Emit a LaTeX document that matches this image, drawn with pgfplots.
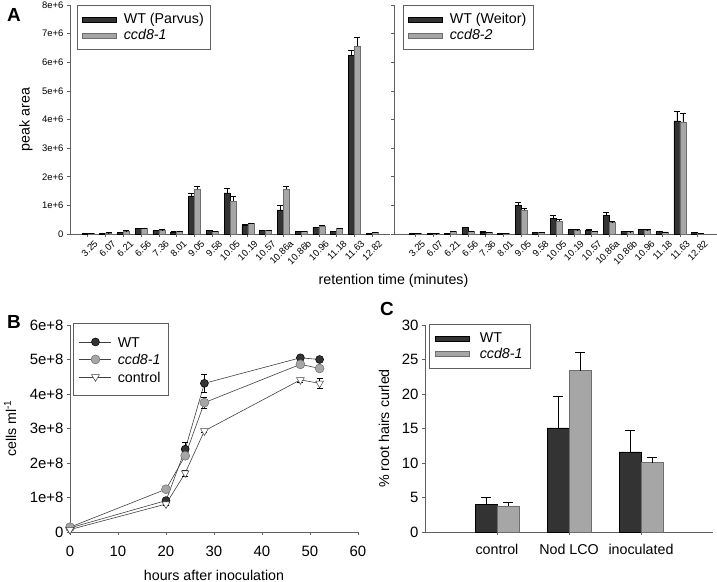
\documentclass[border=0pt]{standalone}
\usepackage{pgfplots}
\pgfplotsset{compat=1.18}
\usepackage{fontspec}
\setmainfont{Liberation Sans}
\definecolor{dk}{HTML}{333333}
\definecolor{lt}{HTML}{A6A6A6}
\definecolor{ltdraw}{HTML}{6E6E6E}
\definecolor{axg}{HTML}{606060}
\definecolor{lineg}{HTML}{404040}

\pgfplotstableread{
i wt wte cc cce
0 20000 10000 20000 10000
1 30000 10000 40000 10000
2 60000 10000 110000 10000
3 200000 15000 200000 15000
4 120000 10000 140000 10000
5 70000 10000 100000 10000
6 1330000 90000 1560000 110000
7 130000 10000 100000 10000
8 1440000 150000 1150000 180000
9 310000 15000 370000 20000
10 120000 10000 130000 10000
11 840000 160000 1560000 120000
12 100000 10000 100000 10000
13 220000 15000 280000 20000
14 100000 10000 200000 15000
15 6240000 180000 6560000 320000
16 30000 10000 50000 10000
}\tableAleft

\pgfplotstableread{
i wt wte cc cce
0 20000 5000 20000 5000
1 10000 5000 10000 5000
2 20000 5000 100000 10000
3 220000 15000 90000 10000
4 70000 10000 60000 5000
5 20000 5000 20000 5000
6 1000000 100000 840000 70000
7 50000 5000 50000 5000
8 550000 90000 450000 50000
9 160000 10000 140000 10000
10 140000 10000 90000 10000
11 660000 100000 400000 50000
12 100000 10000 80000 5000
13 150000 10000 140000 10000
14 100000 10000 70000 5000
15 3950000 340000 3900000 310000
16 50000 5000 20000 5000
}\tableAright

\pgfplotsset{
  myaxis/.style={scale only axis, axis x line=bottom, axis y line=left,
    axis line style={-, draw=axg, line width=0.8bp},
    tick style={draw=axg, line width=0.6bp}, major tick length=3bp,
    tick align=outside, /pgf/number format/assume math mode=true,
    scaled ticks=false, clip=false},
  mylegend/.style={legend style={draw=axg, line width=0.6bp, anchor=north west,
    font=\fontsize{14.3}{16}\selectfont, row sep=0bp, column sep=#1,
    inner xsep=5bp,
    cells={anchor=west, inner xsep=1bp, inner ysep=1.5bp, text height=10.5bp, text depth=3bp}}},
  barleg/.style={legend image code/.code={\draw[##1,/tikz/.cd] (0bp,-2.5bp) rectangle (34bp,2.5bp);}},
  wtbar/.style={fill=dk, draw=black, line width=0.5bp, barleg,
    error bars/.cd, y dir=plus, y explicit, error bar style={black, line width=0.5bp},
    error mark options={black, line width=0.5bp, mark size=#1, rotate=90}, /pgfplots/.cd},
  wtbar/.default=3bp,
  ccbar/.style={fill=lt, draw=ltdraw, line width=0.5bp, barleg,
    error bars/.cd, y dir=plus, y explicit, error bar style={black, line width=0.5bp},
    error mark options={black, line width=0.5bp, mark size=#1, rotate=90}, /pgfplots/.cd},
  ccbar/.default=3bp,
  panelA/.style={myaxis, anchor=south west, ymin=0, ymax=8000000,
    ytick={0,1000000,2000000,3000000,4000000,5000000,6000000,7000000,8000000},
    xtick={0,...,16},
    xticklabels={3.25,6.07,6.21,6.56,7.36,8.01,9.05,9.58,10.05,10.19,10.57,10.86a,10.86b,10.96,11.18,11.63,12.82},
    xticklabel style={xshift=6bp, yshift=-1bp, rotate=45, anchor=north east, inner sep=1bp, font=\fontsize{9.5}{10}\selectfont},
    yticklabel style={font=\fontsize{9.5}{10}\selectfont},
    ybar=0pt, bar width=6bp,
    mylegend=5bp, legend style={inner ysep=6bp},
  },
}

\begin{document}
\begin{tikzpicture}
\useasboundingbox (0,0) rectangle (717bp,582bp);

% ---------- Panel A left
\begin{axis}[panelA, at={(70bp,348bp)}, width=320bp, height=229bp,
  xmin=-1, xmax=17,
  yticklabels={0,1e+6,2e+6,3e+6,4e+6,5e+6,6e+6,7e+6,8e+6},
  ylabel={peak area},
  ylabel style={font=\fontsize{14.3}{16}\selectfont, at={(axis description cs:-0.1375,0.5)}, anchor=center},
  legend style={at={(rel axis cs:0.022,1)}}]
\addplot[wtbar] table[x=i, y=wt, y error=wte] {\tableAleft};
\addplot[ccbar] table[x=i, y=cc, y error=cce] {\tableAleft};
\legend{WT (Parvus), \textit{ccd8-1}}
\end{axis}

% ---------- Panel A right
\begin{axis}[panelA, at={(394bp,348bp)}, width=323bp, height=229bp,
  xmin=-1.2, xmax=17.1,
  yticklabels={},
  legend style={at={(rel axis cs:0.028,1)}}]
\addplot[wtbar] table[x=i, y=wt, y error=wte] {\tableAright};
\addplot[ccbar] table[x=i, y=cc, y error=cce] {\tableAright};
\legend{WT (Weitor), \textit{ccd8-2}}
\end{axis}

\node[font=\fontsize{14.3}{16}\selectfont] at (393.5bp,301bp) {retention time (minutes)};
\node[font=\bfseries\fontsize{19}{20}\selectfont] at (14bp,567bp) {A};
\node[font=\bfseries\fontsize{19}{20}\selectfont] at (14bp,260bp) {B};
\node[font=\bfseries\fontsize{19}{20}\selectfont] at (387bp,273bp) {C};

% ---------- Panel B
\begin{axis}[myaxis, at={(70bp,50bp)}, anchor=south west, width=288bp, height=207bp,
  xmin=0, xmax=60, ymin=0, ymax=600000000,
  xtick={0,10,20,30,40,50,60},
  ytick={0,100000000,200000000,300000000,400000000,500000000,600000000},
  yticklabels={0,1e+8,2e+8,3e+8,4e+8,5e+8,6e+8},
  ticklabel style={font=\fontsize{15}{16}\selectfont},
  xticklabel style={yshift=-8bp},
  ylabel={cells ml\textsuperscript{-1}},
  ylabel style={font=\fontsize{14.3}{16}\selectfont, at={(axis description cs:-0.208,0.5)}, anchor=center},
  xlabel={hours after inoculation},
  xlabel style={font=\fontsize{14.3}{16}\selectfont, at={(axis description cs:0.5,-0.208)}, anchor=center},
  mylegend=4bp,
  legend style={at={(rel axis cs:0.01,1.01)}, inner ysep=10bp, inner xsep=6bp,
    cells={text height=12bp, text depth=3bp}},
  legend image code/.code={\draw[mark repeat=2,mark phase=2,#1] plot coordinates {(0bp,0bp) (16bp,0bp) (32bp,0bp)};}]
\addplot[lineg, line width=0.6bp, mark=*, mark size=4bp, mark options={fill=dk, draw=black, line width=0.5bp},
  error bars/.cd, y dir=both, y explicit, error bar style={black, line width=0.5bp},
  error mark options={black, line width=0.5bp, mark size=3bp, rotate=90}]
  table[x=x, y=y, y error=e] {
x y e
0 12000000 2000000
20 91000000 4000000
24 240000000 20000000
28 431000000 25000000
48 505000000 5000000
52 500000000 5000000
};
\addplot[lineg, line width=0.6bp, mark=*, mark size=4.5bp, mark options={fill=lt, draw=ltdraw, line width=0.5bp},
  error bars/.cd, y dir=both, y explicit, error bar style={black, line width=0.5bp},
  error mark options={black, line width=0.5bp, mark size=3bp, rotate=90}]
  table[x=x, y=y, y error=e] {
x y e
0 14000000 2000000
20 124000000 4000000
24 221000000 8000000
28 375000000 17000000
48 486000000 5000000
52 474000000 6000000
};
\addplot[lineg, line width=0.6bp, mark=triangle*, mark size=4.5bp, mark options={rotate=180, fill=white, draw=lineg, line width=0.5bp},
  error bars/.cd, y dir=both, y explicit, error bar style={black, line width=0.5bp},
  error mark options={black, line width=0.5bp, mark size=3bp, rotate=90}]
  table[x=x, y=y, y error=e] {
x y e
0 7000000 2000000
20 81000000 4000000
24 171000000 9000000
28 293000000 5000000
48 441000000 6000000
52 431000000 15000000
};
\legend{WT, \textit{ccd8-1}, control}
\end{axis}

% ---------- Panel C
\begin{axis}[myaxis, at={(425bp,50bp)}, anchor=south west, width=288bp, height=207bp,
  xmin=0, xmax=4, ymin=0, ymax=30,
  xtick={1,2,3}, xticklabels={control, Nod LCO, inoculated},
  ytick={0,5,10,15,20,25,30},
  ticklabel style={font=\fontsize{15}{16}\selectfont},
  xticklabel style={font=\fontsize{14.3}{16}\selectfont, yshift=-6bp},
  ybar=0pt, bar width=22bp,
  ylabel={\% root hairs curled},
  ylabel style={font=\fontsize{14.3}{16}\selectfont, at={(axis description cs:-0.142,0.5)}, anchor=center},
  mylegend=8bp,
  legend style={at={(rel axis cs:0.014,1.005)}, inner ysep=6bp, inner xsep=6bp}]
\addplot[wtbar=5bp]
  table[x=x, y=y, y error=e] {
x y e
1 4.0 1.07
2 15.1 4.6
3 11.6 3.2
};
\addplot[ccbar=5bp]
  table[x=x, y=y, y error=e] {
x y e
1 3.8 0.45
2 23.4 2.6
3 10.05 0.75
};
\legend{WT, \textit{ccd8-1}}
\end{axis}
\end{tikzpicture}
\end{document}
